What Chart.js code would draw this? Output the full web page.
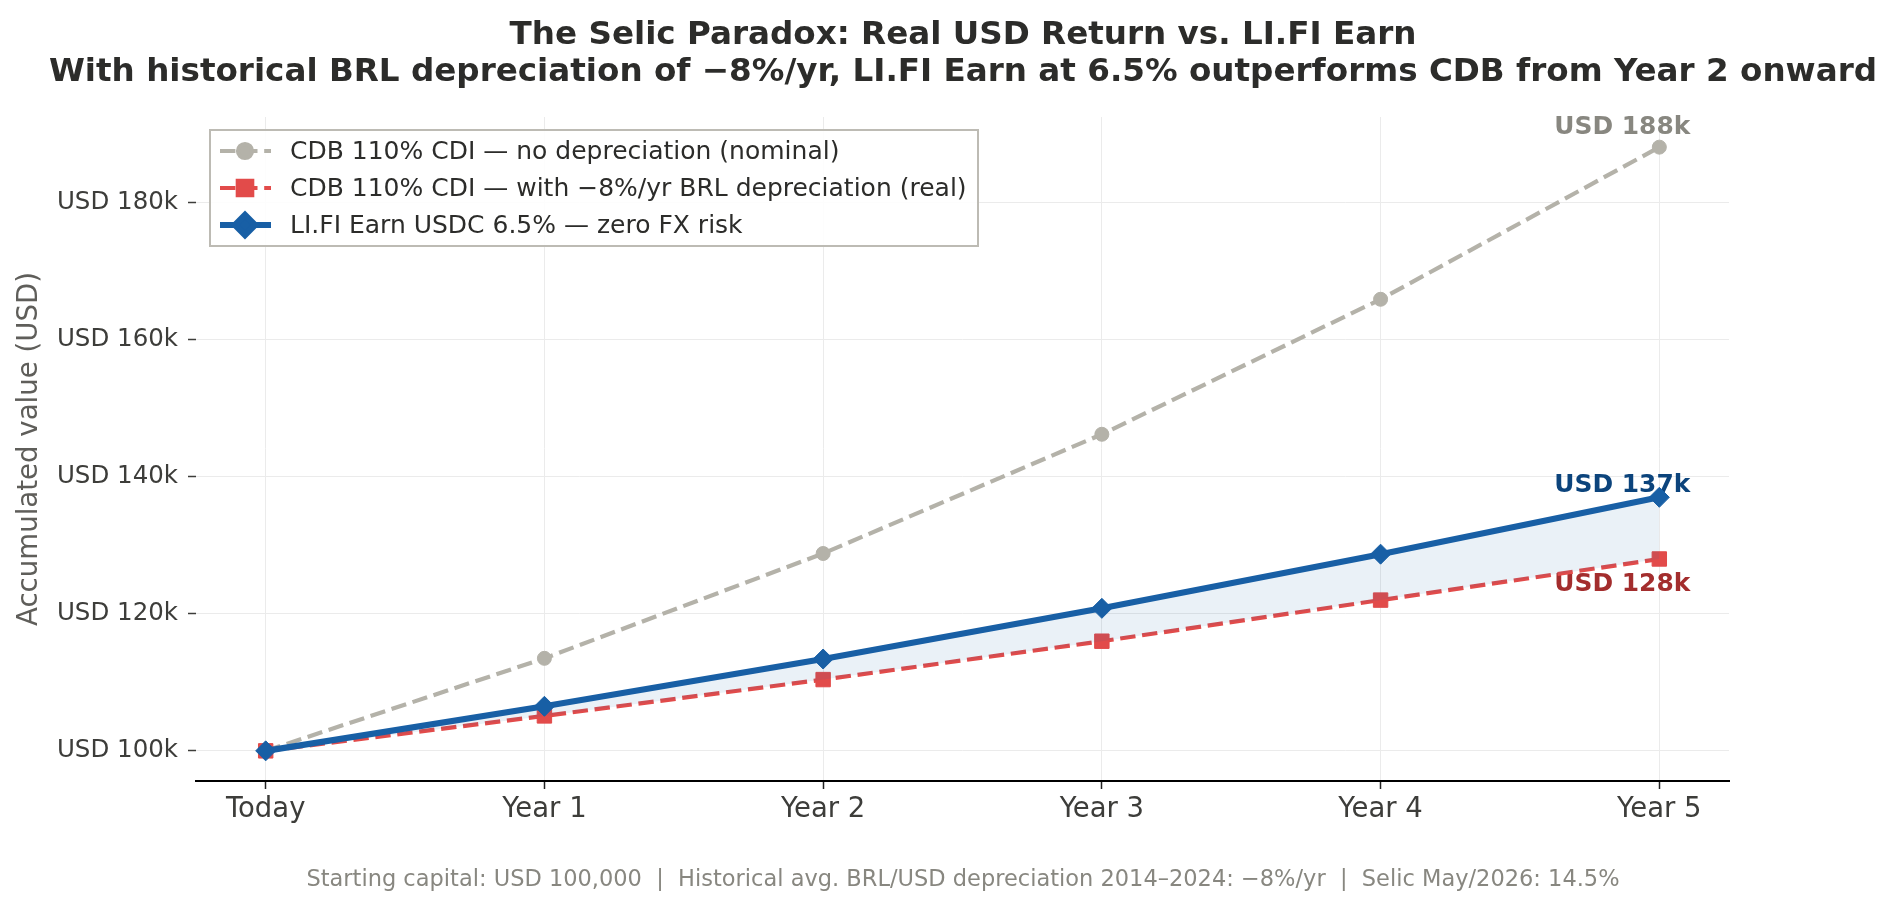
<!DOCTYPE html>
<html>
<head>
<meta charset="utf-8">
<script src="https://cdn.jsdelivr.net/npm/chart.js@4.4.1/dist/chart.umd.min.js"></script>
<style>
  html, body { margin: 0; padding: 0; background: #fff; }
  #chart { display: block; }
</style>
</head>
<body>
<canvas id="chart" width="1894" height="908"></canvas>
<script>
// --- data (values in USD thousands) ---
const xLabels = ['Today', 'Year 1', 'Year 2', 'Year 3', 'Year 4', 'Year 5'];
const years = [0, 1, 2, 3, 4, 5];
const cdbNominal = [100, 113.5, 128.8, 146.2, 165.9, 188.1];
const cdbReal = [100, 105.1, 110.4, 116.0, 122.0, 128.0];
const lifiEarn = [100, 106.5, 113.4, 120.8, 128.7, 137.0];
const yTicks = [100, 120, 140, 160, 180];
const seriesNames = [
  'CDB 110% CDI \u2014 no depreciation (nominal)',
  'CDB 110% CDI \u2014 with \u22128%/yr BRL depreciation (real)',
  'LI.FI Earn USDC 6.5% \u2014 zero FX risk'
];
const titleLines = [
  'The Selic Paradox: Real USD Return vs. LI.FI Earn',
  'With historical BRL depreciation of \u22128%/yr, LI.FI Earn at 6.5% outperforms CDB from Year 2 onward'
];
const footerText = 'Starting capital: USD 100,000  |  Historical avg. BRL/USD depreciation 2014\u20132024: \u22128%/yr  |  Selic May/2026: 14.5%';

const FONT = "'DejaVu Sans', sans-serif";
Chart.defaults.font.family = FONT;

const toPoints = vals => vals.map((v, i) => ({ x: years[i], y: v }));

// title + footer, centred on the figure like a suptitle
const figureText = {
  id: 'figureText',
  afterDraw(chart) {
    const ctx = chart.ctx;
    ctx.save();
    ctx.textAlign = 'center';
    ctx.textBaseline = 'alphabetic';
    ctx.fillStyle = '#2c2c2a';
    ctx.font = 'bold 32.6px ' + FONT;
    ctx.fillText(titleLines[0], 963, 44);
    ctx.fillText(titleLines[1], 963, 81);
    ctx.fillStyle = '#888780';
    ctx.font = '22.5px ' + FONT;
    ctx.fillText(footerText, 963, 886);
    ctx.restore();
  }
};

// legend in a framed box inside the plot, top-left
const boxLegend = {
  id: 'boxLegend',
  afterDraw(chart) {
    const ctx = chart.ctx;
    const left = chart.chartArea.left + 14;
    const top = chart.chartArea.top + 13;
    ctx.save();
    ctx.fillStyle = 'rgba(255,255,255,0.9)';
    ctx.fillRect(left, top, 768, 116);
    ctx.strokeStyle = '#bdbbb4';
    ctx.lineWidth = 2;
    ctx.strokeRect(left, top, 768, 116);
    chart.data.datasets.forEach((ds, i) => {
      const y = top + 21 + i * 37;
      ctx.beginPath();
      ctx.setLineDash(ds.borderDash || []);
      ctx.lineWidth = ds.borderWidth;
      ctx.strokeStyle = ds.borderColor;
      ctx.moveTo(left + 10, y);
      ctx.lineTo(left + 61, y);
      ctx.stroke();
      ctx.setLineDash([]);
      ctx.fillStyle = ds.pointBackgroundColor;
      ctx.strokeStyle = ds.pointBorderColor;
      Chart.helpers.drawPoint(ctx, {
        pointStyle: ds.pointStyle, radius: ds.pointRadius, rotation: 0, borderWidth: 1
      }, left + 35, y);
      ctx.fillStyle = '#2c2c2a';
      ctx.font = '25px ' + FONT;
      ctx.textAlign = 'left';
      ctx.textBaseline = 'middle';
      ctx.fillText(ds.label, left + 80, y + 1);
    });
    ctx.restore();
  }
};

// "USD xxxk" labels near the last point of each series
const endLabels = {
  id: 'endLabels',
  beforeDatasetsDraw(chart, args, opts) {
    const ctx = chart.ctx;
    ctx.save();
    ctx.font = 'bold 24.9px ' + FONT;
    ctx.textAlign = 'center';
    ctx.textBaseline = 'middle';
    chart.data.datasets.forEach((ds, i) => {
      const meta = chart.getDatasetMeta(i);
      const pt = meta.data[meta.data.length - 1];
      const val = ds.data[ds.data.length - 1].y;
      ctx.fillStyle = opts.colors[i];
      ctx.fillText('USD ' + Math.round(val) + 'k', pt.x - 37, pt.y + opts.dy[i]);
    });
    ctx.restore();
  }
};

new Chart(document.getElementById('chart'), {
  type: 'line',
  data: {
    datasets: [
      {
        label: seriesNames[0],
        data: toPoints(cdbNominal),
        borderColor: '#b4b2a9',
        borderWidth: 4.2,
        borderDash: [15.4, 6.7],
        pointStyle: 'circle',
        pointRadius: 7,
        pointBackgroundColor: '#b4b2a9',
        pointBorderColor: '#b4b2a9',
        pointBorderWidth: 1,
        fill: false,
        order: 2
      },
      {
        label: seriesNames[1],
        data: toPoints(cdbReal),
        borderColor: '#e24b4a',
        borderWidth: 4.2,
        borderDash: [15.4, 6.7],
        pointStyle: 'rect',
        pointRadius: 10.2,
        pointBackgroundColor: '#e24b4a',
        pointBorderColor: '#e24b4a',
        pointBorderWidth: 1,
        fill: false,
        order: 1
      },
      {
        label: seriesNames[2],
        data: toPoints(lifiEarn),
        borderColor: '#185fa5',
        borderWidth: 6.2,
        pointStyle: 'rectRot',
        pointRadius: 10,
        pointBackgroundColor: '#185fa5',
        pointBorderColor: '#185fa5',
        pointBorderWidth: 1,
        backgroundColor: 'rgba(24,95,165,0.09)',
        fill: { target: 1 },
        order: 0
      }
    ]
  },
  options: {
    responsive: false,
    animation: false,
    events: [],
    layout: { padding: { top: 117, right: 165, bottom: 67, left: 0 } },
    scales: {
      x: {
        type: 'linear',
        min: -0.25,
        max: 5.25,
        afterBuildTicks: s => { s.ticks = years.map(v => ({ value: v })); },
        afterFit: s => { s.height = 60; },
        border: { display: true, color: '#000', width: 2 },
        grid: { color: '#ebebeb', lineWidth: 1, tickColor: '#222', tickLength: 8, tickWidth: 1.5 },
        ticks: {
          padding: 4,
          color: '#3d3d3a',
          font: { size: 27.5 },
          maxRotation: 0,
          autoSkip: false,
          callback: v => xLabels[v]
        }
      },
      y: {
        type: 'linear',
        min: 95.6,
        max: 192.5,
        afterBuildTicks: s => { s.ticks = yTicks.map(v => ({ value: v })); },
        afterFit: s => { s.width = 196; },
        border: { display: false },
        grid: { color: '#ebebeb', lineWidth: 1, tickColor: '#3d3d3a', tickLength: 8, tickWidth: 1.5 },
        ticks: {
          padding: 10,
          color: '#3d3d3a',
          font: { size: 24.5 },
          callback: v => 'USD ' + v + 'k'
        },
        title: {
          display: true,
          text: 'Accumulated value (USD)',
          color: '#5f5e5a',
          font: { size: 27.6 },
          padding: { top: 13, bottom: 0 }
        }
      }
    },
    plugins: {
      legend: { display: false },
      tooltip: { enabled: false },
      endLabels: {
        colors: ['#888780', '#a32d2d', '#0c447c'],
        dy: [-20, 26, -12]
      }
    }
  },
  plugins: [figureText, boxLegend, endLabels]
});
</script>
</body>
</html>
